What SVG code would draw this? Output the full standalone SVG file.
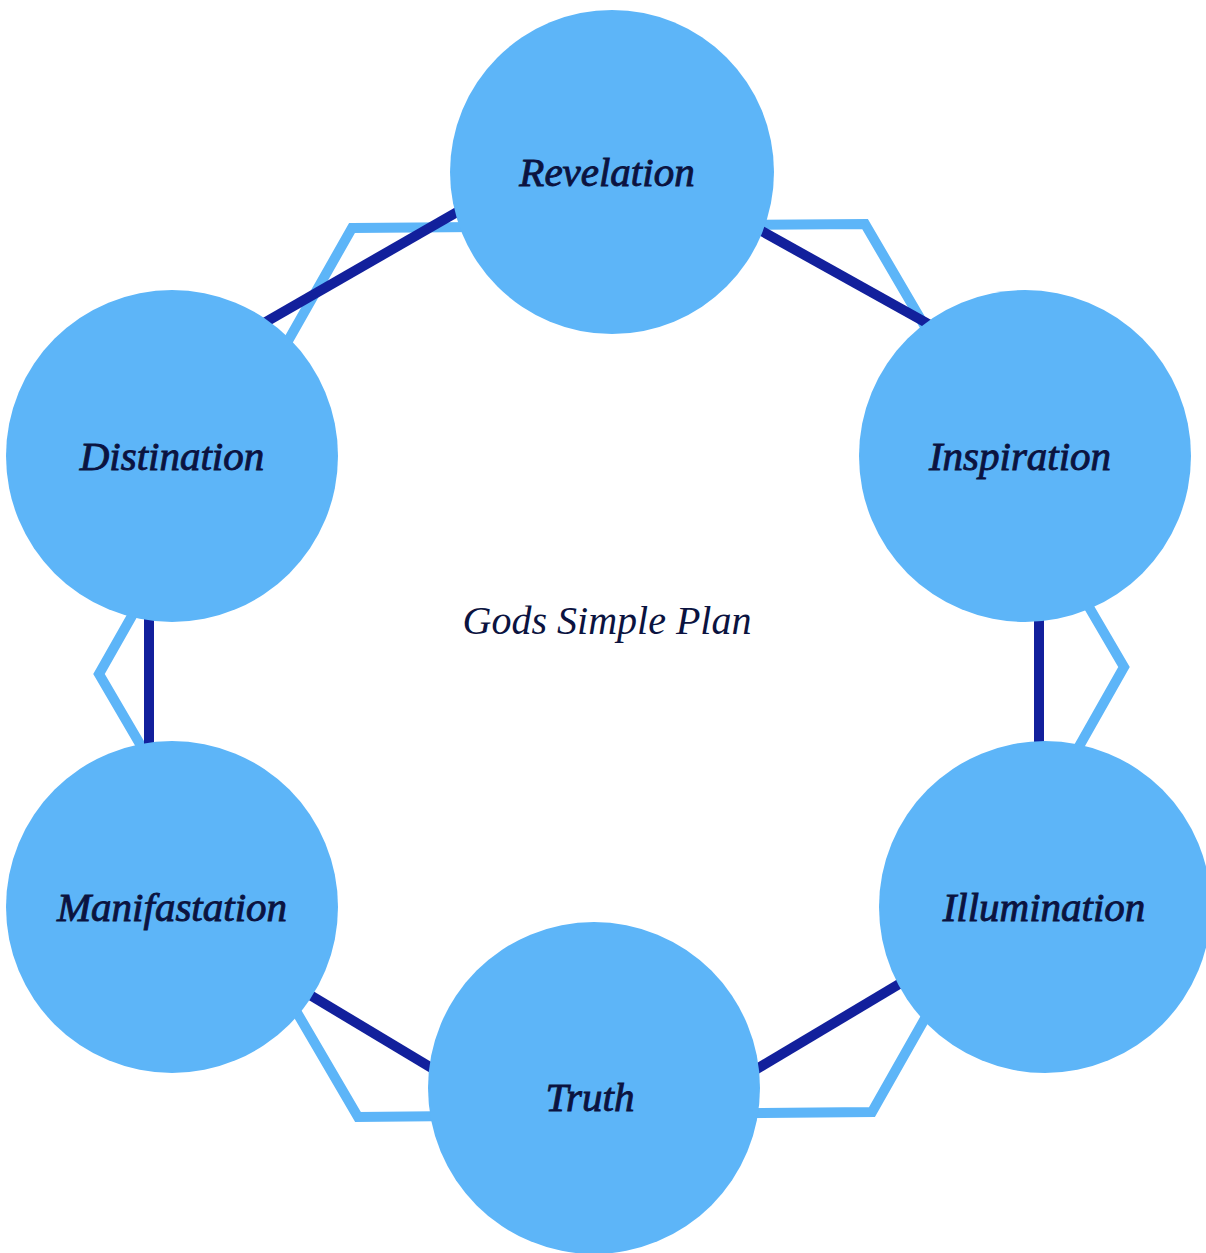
<svg xmlns="http://www.w3.org/2000/svg" width="1206" height="1253" viewBox="0 0 1206 1253">
<style>
.node{fill:#5DB5F8;}
.lbl{font-family:"Liberation Serif","Times New Roman",serif;font-style:italic;font-size:41px;fill:#0B1340;stroke:#0B1340;stroke-width:0.9;text-anchor:middle;}
.title{font-family:"Liberation Serif","Times New Roman",serif;font-style:italic;font-size:40px;fill:#0B1340;text-anchor:middle;}
.hex{fill:none;stroke:#5DB5F8;stroke-width:10;stroke-linejoin:miter;}
.link{stroke:#12209C;stroke-width:10;fill:none;}
</style>
<rect width="1206" height="1253" fill="#FFFFFF"/>
<polygon class="hex" points="352,228 865,224 1124,667 872,1112 358,1117 99,674"/>
<g id="connectors">
<line class="link" x1="740" y1="219" x2="950" y2="336"/>
<line class="link" x1="478" y1="200" x2="243" y2="335"/>
<line class="link" x1="149" y1="456" x2="149" y2="907"/>
<line class="link" x1="1039" y1="456" x2="1039" y2="907"/>
<line class="link" x1="290" y1="983" x2="455" y2="1082"/>
<line class="link" x1="735" y1="1082" x2="921" y2="971"/>
</g>
<text class="title" x="607" y="634">Gods Simple Plan</text>
<g id="revelation"><circle class="node" cx="612" cy="172" r="162"/><text class="lbl" x="607" y="186">Revelation</text></g>
<g id="inspiration"><circle class="node" cx="1025" cy="456" r="166"/><text class="lbl" x="1020" y="470">Inspiration</text></g>
<g id="distination"><circle class="node" cx="172" cy="456" r="166"/><text class="lbl" x="172" y="470">Distination</text></g>
<g id="illumination"><circle class="node" cx="1045" cy="907" r="166"/><text class="lbl" x="1044" y="921">Illumination</text></g>
<g id="manifastation"><circle class="node" cx="172" cy="907" r="166"/><text class="lbl" x="172" y="921">Manifastation</text></g>
<g id="truth"><circle class="node" cx="594" cy="1088" r="166"/><text class="lbl" x="590" y="1111">Truth</text></g>
</svg>
